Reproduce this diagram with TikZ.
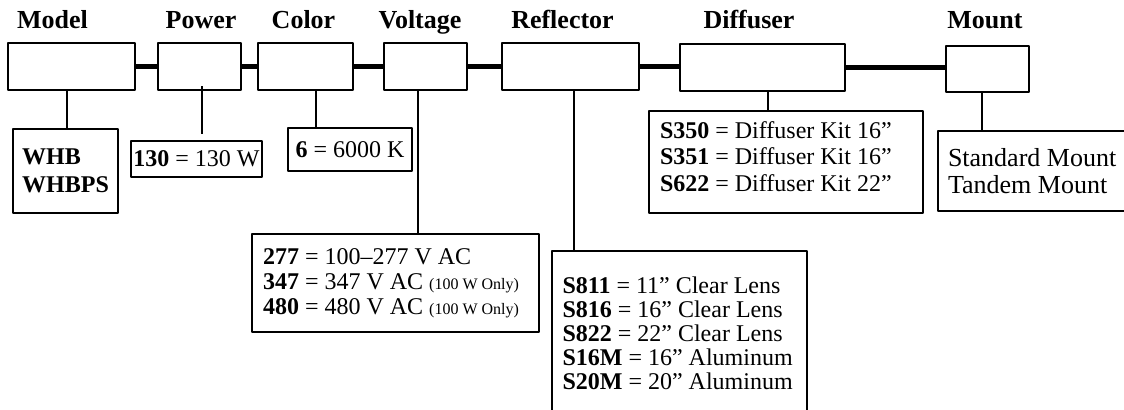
\documentclass[tikz,border=0pt]{standalone}
\usepackage{fontspec}
\setmainfont{Liberation Serif}
\begin{document}
\begin{tikzpicture}[x=0.5pt,y=-0.5pt,line join=round]
\tikzset{
  hdr/.style={font=\fontsize{13}{15}\selectfont\bfseries,anchor=base,inner sep=0pt},
  field/.style={draw,line width=1pt,inner sep=0pt,minimum height=23.5pt},
  code/.style={draw,line width=1pt,anchor=north west,align=left,inner xsep=5.5pt,inner ysep=0pt,
    font=\fontsize{12}{13}\selectfont,execute at begin node={\spaceskip=0pt\xspaceskip=0pt\relax}},
  link/.style={line width=2.5pt},
  drop/.style={line width=0.75pt}
}
\useasboundingbox (0,0) rectangle (1124,409);
\clip (0,0) rectangle (1124,409);
% headings
\node[hdr] (hmodel) at (52.5,28) {Model};
\node[hdr] (hpow) at (201,28) {Power};
\node[hdr] (hcol) at (303.5,28) {Color};
\node[hdr] (hvolt) at (420,28) {Voltage};
\node[hdr] (hrefl) at (562.5,28) {Reflector};
\node[hdr] (hdiff) at (749,28) {Diffuser};
\node[hdr] (hmount) at (985,28) {Mount};
% fields
\node[field,minimum width=63.5pt] (model) at (71.5,66.5) {};
\node[field,minimum width=41.5pt] (pow) at (199.5,66.5) {};
\node[field,minimum width=47.5pt] (col) at (305.5,66.5) {};
\node[field,minimum width=41.5pt] (volt) at (425.5,66.5) {};
\node[field,minimum width=68.5pt] (refl) at (570.5,66.5) {};
\node[field,minimum width=82.5pt] (diff) at (762.5,67) {};
\node[field,minimum width=41.5pt,minimum height=23pt] (mount) at (987.5,69) {};
\foreach \a/\b in {model/pow,pow/col,col/volt,volt/refl,refl/diff,diff/mount}
  \draw[link] (\a.east) -- (\a.east -| \b.west);
% codes
\node[code,minimum width=52.5pt,minimum height=42pt,inner xsep=0pt,font=\fontsize{12}{14}\selectfont\bfseries] (mcode) at (12,128) {WHB\\WHBPS};
\node[code,minimum width=65.5pt,minimum height=18pt,inner xsep=0pt] (pcode) at (130,140) {\textbf{130} = 130 W};
\node[code,minimum width=62pt,minimum height=21.5pt,inner xsep=0pt] (ccode) at (287,127) {\textbf{6} = 6000 K};
\node[code,text width=132.5pt,inner ysep=7.2pt,font=\fontsize{12}{12.5}\selectfont] (vcode) at (251,233)
  {\textbf{277} = 100--277 V AC\\
   \textbf{347} = 347 V AC {\fontsize{8}{9}\selectfont(100 W Only)}\\
   \textbf{480} = 480 V AC {\fontsize{8}{9}\selectfont(100 W Only)}};
\node[code,text width=117pt,inner xsep=5.25pt,inner ysep=12.7pt,text depth=60pt,font=\fontsize{12}{12}\selectfont] (rcode) at (551,250)
  {\textbf{S811} = 11” Clear Lens\\
   \textbf{S816} = 16” Clear Lens\\
   \textbf{S822} = 22” Clear Lens\\
   \textbf{S16M} = 16” Aluminum\\
   \textbf{S20M} = 20” Aluminum};
\node[code,text width=126pt,inner ysep=5.2pt,text depth=32.3pt,font=\fontsize{12}{13.25}\selectfont] (dcode) at (648,110)
  {\textbf{S350} = Diffuser Kit 16”\\
   \textbf{S351} = Diffuser Kit 16”\\
   \textbf{S622} = Diffuser Kit 22”};
\node[code,text width=90pt,inner xsep=5pt,inner ysep=8.7pt,font=\fontsize{13}{13.5}\selectfont] (tcode) at (937,130)
  {Standard Mount\\Tandem Mount};
% drops
\foreach \a/\b/\s in {model/mcode/-2.25,col/ccode/5.25,volt/vcode/-3.75,refl/rcode/1.75,diff/dcode/2.75,mount/tcode/-2.75}
  \draw[drop] ([xshift=\s pt]\a.south) -- ([xshift=\s pt]\a.south |- \b.north);
\draw[drop] ([xshift=1.25pt,yshift=2.5pt]pow.south) -- ([xshift=1.25pt,yshift=3pt]pow.south |- pcode.north);
\end{tikzpicture}
\end{document}
